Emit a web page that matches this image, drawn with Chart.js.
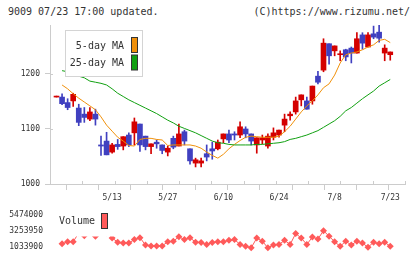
<!DOCTYPE html>
<html>
<head>
<meta charset="utf-8">
<script src="https://cdn.jsdelivr.net/npm/chart.js@4.4.1/dist/chart.umd.min.js"></script>
<style>
  body { margin: 0; width: 420px; height: 259px; background: #fff; position: relative; overflow: hidden;
         font-family: "DejaVu Sans Mono", monospace; color: #333; }
  .head { position: absolute; top: 6px; font-size: 10px; line-height: 12px; white-space: nowrap; }
  #stamp { left: 8px; }
  #copy  { right: 10px; }
  #price { position: absolute; left: 0; top: 0; }
  #vol   { position: absolute; left: 0; top: 203px; }
</style>
</head>
<body>
<div class="head" id="stamp">9009 07/23 17:00 updated.</div>
<div class="head" id="copy">(C)https://www.rizumu.net/</div>
<canvas id="price" width="420" height="203"></canvas>
<canvas id="vol" width="420" height="56"></canvas>
<script>
'use strict';

/* ─── Data (trading days 4/24 .. 7/23, index 0..60) ─────────── */
var tickDays   = [10, 20, 30, 40, 50, 60];
var tickLabels = ['5/13', '5/27', '6/10', '6/24', '7/8', '7/23'];
var priceTicks = [1000, 1100, 1200];
var volTicks   = [1033900, 3253950, 5474000];

var opens  = [1158,1158,1148,1151,1138,1127,1118,1127,1071,1078,
              1058,1072,1069,1089,1093,1109,1087,1068,1076,1071,
              1058,1083,1069,1095,1064,1038,1038,1055,1064,1064,
              1082,1091,1091,1089,1100,1091,1071,1080,1069,1085,
              1089,1107,1124,1131,1153,1151,1151,1196,1207,1255,
              1242,1235,1244,1247,1238,1271,1249,1273,1276,1238,
              1235];
var highs  = [1158,1164,1155,1165,1145,1139,1139,1136,1087,1094,
              1074,1081,1086,1093,1120,1109,1087,1073,1080,1071,
              1069,1087,1109,1098,1064,1047,1047,1071,1076,1080,
              1091,1098,1095,1113,1104,1091,1084,1089,1091,1102,
              1098,1127,1131,1158,1162,1158,1178,1205,1264,1255,
              1251,1242,1245,1249,1275,1275,1275,1287,1289,1253,
              1240];
var lows   = [1158,1144,1135,1141,1106,1112,1115,1107,1052,1053,
              1056,1063,1062,1068,1071,1059,1062,1055,1065,1055,
              1051,1064,1069,1071,1036,1031,1031,1042,1045,1062,
              1075,1075,1080,1084,1084,1071,1056,1073,1065,1080,
              1085,1095,1116,1127,1142,1136,1145,1182,1204,1218,
              1233,1224,1224,1220,1238,1245,1249,1264,1258,1224,
              1225];
var closes = [1158,1146,1139,1163,1112,1121,1131,1118,1069,1053,
              1071,1068,1086,1071,1113,1071,1068,1073,1073,1061,
              1065,1067,1091,1078,1042,1044,1042,1049,1060,1076,
              1091,1080,1089,1104,1091,1078,1084,1084,1087,1093,
              1098,1118,1127,1151,1162,1136,1178,1185,1256,1233,
              1251,1236,1231,1238,1264,1256,1271,1267,1265,1247,
              1240];
var ma5    = [null,1180,1173,1164,1156,1149,1142,1135,1122,1107,
              1096,1085,1078,1070,1069,1081,1083,1083,1081,1080,
              1070,1071,1071,1071,1071,1069,1065,1058,1052,1047,
              1054,1064,1072,1079,1085,1087,1086,1085,1085,1085,
              1087,1095,1105,1118,1131,1142,1151,1162,1175,1182,
              1198,1220,1235,1238,1240,1244,1249,1253,1261,1263,
              1257];
var ma25   = [null,1206,1204,1200,1196,1193,1187,1185,1183,1180,
              1173,1165,1159,1153,1148,1143,1138,1133,1128,1122,
              1116,1111,1105,1101,1097,1093,1088,1083,1078,1075,
              1074,1072,1071,1071,1071,1071,1072,1072,1073,1074,
              1075,1077,1081,1083,1086,1089,1093,1097,1103,1109,
              1115,1123,1133,1139,1147,1155,1162,1169,1178,1184,
              1190];
var volume = [null,1490000,1780000,1780000,3000000,2590000,3100000,2540000,3400000,3000000,
              2310000,1710000,1600000,1600000,2080000,2340000,1330000,1210000,1210000,1210000,
              1780000,1860000,2460000,2080000,2340000,1710000,1670000,1410000,1670000,1780000,
              1780000,1970000,2080000,1410000,1150000,950000,2280000,1860000,950000,1330000,
              1410000,1970000,1410000,2910000,2280000,1410000,2420000,2160000,3290000,2540000,
              1780000,1150000,1860000,1330000,1860000,1600000,1030000,1710000,1490000,1710000,
              1150000];

/* ─── Styles ───────────────────────────────────────────────── */
var RED = '#d40000', BLUE = '#4040c0', ORANGE = '#f0900a', GREEN = '#10a010';
var VOLRED = '#ff5a5a', AXIS = '#cccccc', INK = '#333333';
var MONO = '"DejaVu Sans Mono", monospace';
var X_MIN = -1.17, X_MAX = 62.65, GRID_STEPS = 11;

Chart.defaults.font.family = MONO;
Chart.defaults.color = INK;

function xy(arr) {
  return arr.map(function(v, i) { return { x: i, y: v }; });
}
function setTicks(list) {
  return function(scale) { scale.ticks = list.map(function(v) { return { value: v }; }); };
}
function plain(v) { return String(v); }

var candleColors = closes.map(function(c, i) { return c >= opens[i] ? RED : BLUE; });
var gridTicks = [];
for (var g = 0; g <= GRID_STEPS; g++) { gridTicks.push(X_MIN + (X_MAX - X_MIN) * g / GRID_STEPS); }

/* ─── Plugins: legend boxes + tick stubs ───────────────────── */
var priceLegend = {
  id: 'priceLegend',
  afterDraw: function(chart) {
    var ctx = chart.ctx, a = chart.chartArea;
    var sx = chart.scales.x, sy = chart.scales.y;
    ctx.save();
    ctx.strokeStyle = AXIS; ctx.lineWidth = 1;
    ctx.beginPath();
    sx.ticks.forEach(function(t) {
      var px = Math.round(sx.getPixelForValue(t.value)) + 0.5;
      ctx.moveTo(px, a.bottom); ctx.lineTo(px, a.bottom - 3);
    });
    sy.ticks.forEach(function(t) {
      var py = Math.round(sy.getPixelForValue(t.value)) + 0.5;
      ctx.moveTo(a.left, py); ctx.lineTo(a.left + 3, py);
    });
    ctx.stroke();

    ctx.fillStyle = '#fff'; ctx.fillRect(65, 30, 78, 47);
    ctx.strokeStyle = '#d4d4d4'; ctx.strokeRect(65.5, 30.5, 77, 46);
    ctx.font = '10px ' + MONO; ctx.textAlign = 'right'; ctx.textBaseline = 'middle';
    [chart.data.datasets[2], chart.data.datasets[3]].forEach(function(ds, k) {
      var cy = 46 + k * 17.5;
      ctx.fillStyle = INK; ctx.fillText(ds.label, 124, cy);
      ctx.fillStyle = ds.borderColor; ctx.fillRect(131.5, cy - 8.5, 6, 15);
      ctx.strokeStyle = INK; ctx.strokeRect(131.5, cy - 8.5, 6, 15);
    });
    ctx.restore();
  }
};

var volLegend = {
  id: 'volLegend',
  afterDatasetsDraw: function(chart) {
    var ctx = chart.ctx, ds = chart.data.datasets[0];
    ctx.save();
    ctx.fillStyle = '#fff'; ctx.fillRect(55, 0, 61, 33.5);
    ctx.font = '10px ' + MONO; ctx.textAlign = 'left'; ctx.textBaseline = 'middle';
    ctx.fillStyle = INK; ctx.fillText(ds.label, 59, 18);
    ctx.fillStyle = ds.borderColor; ctx.fillRect(101.5, 10.5, 6, 15);
    ctx.strokeStyle = INK; ctx.lineWidth = 1; ctx.strokeRect(101.5, 10.5, 6, 15);
    ctx.restore();
  }
};

/* ─── Price chart ──────────────────────────────────────────── */
new Chart(document.getElementById('price'), {
  type: 'bar',
  data: {
    datasets: [
      { label: 'wick', data: lows.map(function(l, i) { return { x: i, y: [l, highs[i]] }; }),
        backgroundColor: candleColors, barThickness: 1, minBarLength: 1, grouped: false, order: 4 },
      { label: 'body', data: opens.map(function(o, i) { return { x: i, y: [o, closes[i]] }; }),
        backgroundColor: candleColors, barThickness: 5, minBarLength: 1, grouped: false, order: 3 },
      { type: 'line', label: '5-day MA', data: xy(ma5), borderColor: ORANGE, borderWidth: 1,
        pointRadius: 0, tension: 0, order: 2 },
      { type: 'line', label: '25-day MA', data: xy(ma25), borderColor: GREEN, borderWidth: 1,
        pointRadius: 0, tension: 0, order: 1 }
    ]
  },
  options: {
    responsive: false,
    animation: false,
    events: [],
    layout: { padding: { top: 25, right: 15, bottom: 0, left: 0 } },
    plugins: { legend: { display: false }, tooltip: { enabled: false } },
    scales: {
      x: {
        type: 'linear', min: X_MIN, max: X_MAX, offset: false,
        afterBuildTicks: setTicks(gridTicks),
        afterFit: function(s) { s.height = 6; },
        ticks: { display: false },
        grid: { drawOnChartArea: false, color: AXIS, tickLength: 6 },
        border: { color: AXIS }
      },
      xl: {
        type: 'linear', position: 'bottom', weight: 1, min: X_MIN, max: X_MAX, offset: false,
        afterBuildTicks: setTicks(tickDays),
        afterFit: function(s) { s.height = 13; },
        ticks: {
          autoSkip: false, maxRotation: 0, padding: 3, font: { size: 8 }, color: INK,
          callback: function(v) { return tickLabels[tickDays.indexOf(v)]; }
        },
        grid: { display: false, drawTicks: false },
        border: { display: false }
      },
      y: {
        min: 1000, max: 1289,
        afterBuildTicks: setTicks(priceTicks),
        afterFit: function(s) { s.width = 50; },
        ticks: { padding: 5, font: { size: 8 }, color: INK, callback: plain },
        grid: { drawOnChartArea: false, color: AXIS, tickLength: 5 },
        border: { color: AXIS }
      }
    }
  },
  plugins: [priceLegend]
});

/* ─── Volume chart ─────────────────────────────────────────── */
new Chart(document.getElementById('vol'), {
  type: 'line',
  data: {
    datasets: [
      { label: 'Volume', data: xy(volume), borderColor: VOLRED, backgroundColor: VOLRED,
        borderWidth: 1, pointStyle: 'rectRot', pointRadius: 3.5, pointBorderWidth: 0,
        tension: 0, clip: false }
    ]
  },
  options: {
    responsive: false,
    animation: false,
    events: [],
    layout: { padding: { top: 6, right: 15, bottom: 11, left: 0 } },
    plugins: { legend: { display: false }, tooltip: { enabled: false } },
    scales: {
      x: { type: 'linear', min: X_MIN, max: X_MAX, display: false },
      y: {
        min: volTicks[0], max: volTicks[2],
        afterBuildTicks: setTicks(volTicks),
        afterFit: function(s) { s.width = 50; },
        ticks: { padding: 7, font: { size: 8 }, color: INK, callback: plain },
        grid: { display: false, drawTicks: false },
        border: { display: false }
      }
    }
  },
  plugins: [volLegend]
});
</script>
</body>
</html>
